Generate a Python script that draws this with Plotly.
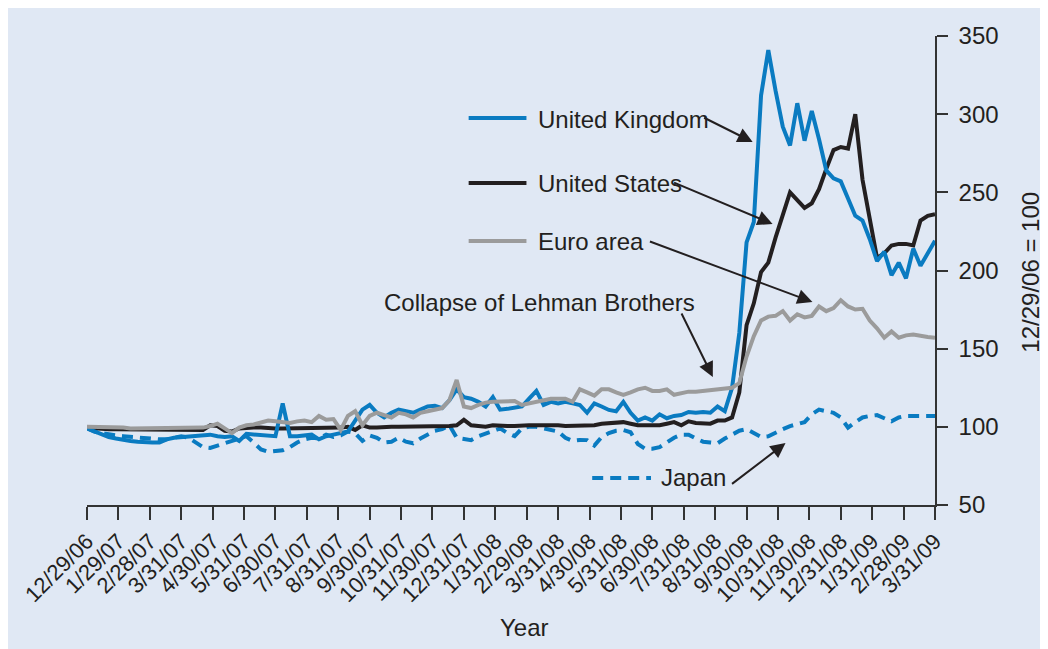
import numpy as np
import plotly.graph_objects as go

tick_labels = ["12/29/06", "1/29/07", "2/28/07", "3/31/07", "4/30/07", "5/31/07", "6/30/07",
               "7/31/07", "8/31/07", "9/30/07", "10/31/07", "11/30/07", "12/31/07", "1/31/08",
               "2/29/08", "3/31/08", "4/30/08", "5/31/08", "6/30/08", "7/31/08", "8/31/08",
               "9/30/08", "10/31/08", "11/30/08", "12/31/08", "1/31/09", "2/28/09", "3/31/09"]

# weekly observations, 12/29/06 = 100
united_kingdom = [99, 97, 95, 93.5, 92.5, 91.5, 91, 90.5, 90, 90, 90, 92, 93, 93.5, 94, 94, 94.5, 95, 94, 93.5,
                  94, 91, 95.5, 95, 95, 94.5, 94, 115, 94, 94, 94.5, 95, 92, 94, 95, 96, 97, 104, 111, 114,
                  109, 106, 109, 111, 110, 109, 111, 113, 113.5, 112, 117, 124, 119, 118, 116, 113, 119, 111, 111.5, 112.5,
                  113, 118, 123, 114, 116, 115, 116, 115, 114, 109, 115, 113, 110.8, 110, 116, 109, 104, 106, 104, 108,
                  105.5, 107, 107.5, 109.5, 109, 109.5, 109, 113, 110, 125, 160, 218, 231, 312, 341, 315, 292, 280, 307, 283,
                  302, 284, 264, 259, 257, 246, 235, 232, 220, 206, 212, 197, 205, 195, 214, 203, 211, 219]

united_states = [99.5, 99, 98.5, 98.5, 98.5, 98.5, 98, 98.5, 98, 98.5, 98.5, 98, 98.5, 98.5, 98.5, 98.5, 98, 101, 100.5, 97.5,
                 97, 99, 99.5, 99.5, 99.5, 99, 99, 99, 99, 99, 99, 99, 99, 99, 99, 99.5, 100, 98, 101, 99.5,
                 99.5, 100, 100, 100, 100, 100, 100, 100, 100, 100, 100.5, 101, 104.5, 101, 100.5, 100, 101, 100.5, 100.5, 100.5,
                 101, 101, 101, 101, 101.5, 101, 100.5, 100.5, 101, 101, 101, 102, 102.5, 103, 103, 102, 101, 101, 101, 101,
                 102, 103, 101, 103.5, 102.5, 102, 102, 104, 104, 106, 122, 165, 179, 199, 205, 221, 236, 250, 245, 240,
                 243, 252, 265, 277, 279, 278, 300, 258, 233, 208, 211, 216, 217, 217, 216, 232, 235, 236]

euro_area = [100, 100, 100, 99.5, 99.5, 99.5, 99, 99, 99.5, 99, 99, 99, 99, 99.5, 99, 99, 99.5, 100.5, 102, 99,
             96, 99.5, 101, 101.5, 103, 104, 103.5, 103, 102.5, 103.5, 104, 103, 107, 104.5, 105, 98, 107, 110, 101, 107,
             109, 107.5, 106, 109, 108, 106, 109, 110, 111, 112, 117, 130, 113, 112, 114, 115.5, 116, 116, 116, 116.5,
             114, 115, 116, 117, 118, 118, 118, 116, 124, 122, 120, 124, 124, 122, 120.5, 122, 124, 125, 123, 123,
             124, 120.5, 121.5, 122.5, 122.5, 123, 123.5, 124.5, 124.5, 125, 128, 145, 158, 168, 170.5, 171, 174, 168, 172, 170,
             171, 177, 174, 176, 181, 177, 175, 175.5, 168, 163, 157, 161, 157, 158.5, 159, 158, 157.5, 157]

japan = [99, 97, 96, 95, 94.5, 94, 93.5, 93, 92.5, 92.5, 92, 92, 93, 94, 93, 90, 87, 86.5, 88, 89.5,
         91, 93, 94, 90, 85.5, 84, 84.5, 85, 87, 90, 92, 93, 92.5, 95, 93.5, 94.5, 97, 96, 91, 94.5,
         93, 90, 90.5, 93, 90.5, 89.5, 92.5, 95, 97.5, 98.5, 101, 93, 92.5, 91.5, 94, 95.5, 97.5, 99, 96, 94,
         99, 100, 100, 99, 98, 97, 93, 91, 91.6, 91.5, 88, 93.5, 96, 97.5, 98, 96.5, 89, 86, 86, 87,
         90, 93, 95, 95, 92.5, 90.5, 90, 89.5, 92.5, 95, 97.5, 98.5, 96, 93.5, 94, 96.5, 98.5, 100.5, 102, 103,
         108, 111, 110, 109, 106, 99.5, 103, 106, 107, 107.5, 105.5, 103.5, 106, 107, 107, 107, 107, 107]

BLUE = "#0a7bc1"
BLACK = "#231f20"
GRAY = "#9b9b9b"
BG = "#e0e8f4"
TXT = "#231f20"
FONT = "Liberation Sans, Arial, sans-serif"
FS = 24

# page offset of the figure (body margin) and plot area in screen pixels
OFF = 8
L, R, T, B = 84, 935, 36, 505
W, H = 1040, 641


def px(x):
    return (x - L) / (R - L)


def py(y):
    return (B - y) / (B - T)


def mx(x):
    return (x - L) / (R - L) * 27


def vy(y):
    return 50 + (B - y) / (B - T) * 300


fig = go.Figure()
series = [("Japan", japan, BLUE, "11px,7px"),
          ("United States", united_states, BLACK, "solid"),
          ("United Kingdom", united_kingdom, BLUE, "solid"),
          ("Euro area", euro_area, GRAY, "solid")]
for name, vals, col, dash in series:
    xs = np.linspace(0, 27, len(vals))
    fig.add_trace(go.Scatter(x=xs, y=vals, mode="lines", name=name,
                             line=dict(color=col, width=4, dash=dash), showlegend=False))

shapes = []
swatches = [(467, 525, 118, BLUE, "solid"), (467, 525, 183, BLACK, "solid"),
            (467, 525, 241, GRAY, "solid"), (591, 650, 478, BLUE, "11px,7px")]
for x0, x1, y, col, dash in swatches:
    shapes.append(dict(type="line", xref="paper", yref="paper", x0=px(x0), x1=px(x1), y0=py(y), y1=py(y),
                       line=dict(color=col, width=4, dash=dash)))

annotations = []
labels = [("United Kingdom", 535, 120), ("United States", 535, 184), ("Euro area", 535, 242),
          ("Japan", 658, 477)]
for txt, x, y in labels:
    annotations.append(dict(text=txt, xref="paper", yref="paper", x=px(x), y=py(y), xanchor="left",
                            yanchor="middle", showarrow=False, font=dict(size=FS, color=TXT, family=FONT)))
annotations.append(dict(text="Collapse of Lehman Brothers", xref="paper", yref="paper", x=px(538), y=py(302),
                        xanchor="center", yanchor="middle", showarrow=False,
                        font=dict(size=FS, color=TXT, family=FONT)))
arrows = [(702, 117, 752, 142), (672, 182, 772, 224), (648, 241, 812, 302), (680, 312, 712, 377),
          (730, 485, 785, 443)]
for tx, ty, hx, hy in arrows:
    annotations.append(dict(text="", xref="x", yref="y", x=mx(hx), y=vy(hy), ax=tx - hx, ay=ty - hy,
                            showarrow=True, arrowhead=2, arrowsize=1.5, arrowwidth=2, arrowcolor=TXT))
annotations.append(dict(text="Year", xref="paper", yref="paper", x=px(523), y=py(627), xanchor="center",
                        yanchor="middle", showarrow=False, font=dict(size=FS, color=TXT, family=FONT)))
annotations.append(dict(text="12/29/06 = 100", xref="paper", yref="paper", x=px(1030), y=py(272),
                        xanchor="center", yanchor="middle", textangle=-90, showarrow=False,
                        font=dict(size=FS, color=TXT, family=FONT)))

fig.update_layout(
    width=W, height=H,
    margin=dict(l=L - OFF, r=W - (R - OFF), t=T - OFF, b=H - (B - OFF), pad=0),
    paper_bgcolor=BG, plot_bgcolor=BG,
    font=dict(family=FONT, size=FS, color=TXT),
    shapes=shapes, annotations=annotations,
    xaxis=dict(range=[0, 27], tickmode="array", tickvals=list(range(28)), ticktext=tick_labels,
               tickangle=-45, ticks="outside", ticklen=13, tickwidth=1.5, tickcolor="#333",
               showline=True, linecolor="#333", linewidth=1.5, showgrid=False, zeroline=False,
               tickfont=dict(size=22, color=TXT, family=FONT)),
    yaxis=dict(range=[50, 350], side="right", tickvals=[50, 100, 150, 200, 250, 300, 350],
               ticks="outside", ticklen=11, tickwidth=1.5, tickcolor="#333", ticklabelstandoff=6,
               showline=True, linecolor="#333", linewidth=1.5, showgrid=False, zeroline=False,
               tickfont=dict(size=FS, color=TXT, family=FONT)),
)

fig.write_html("out.html")
